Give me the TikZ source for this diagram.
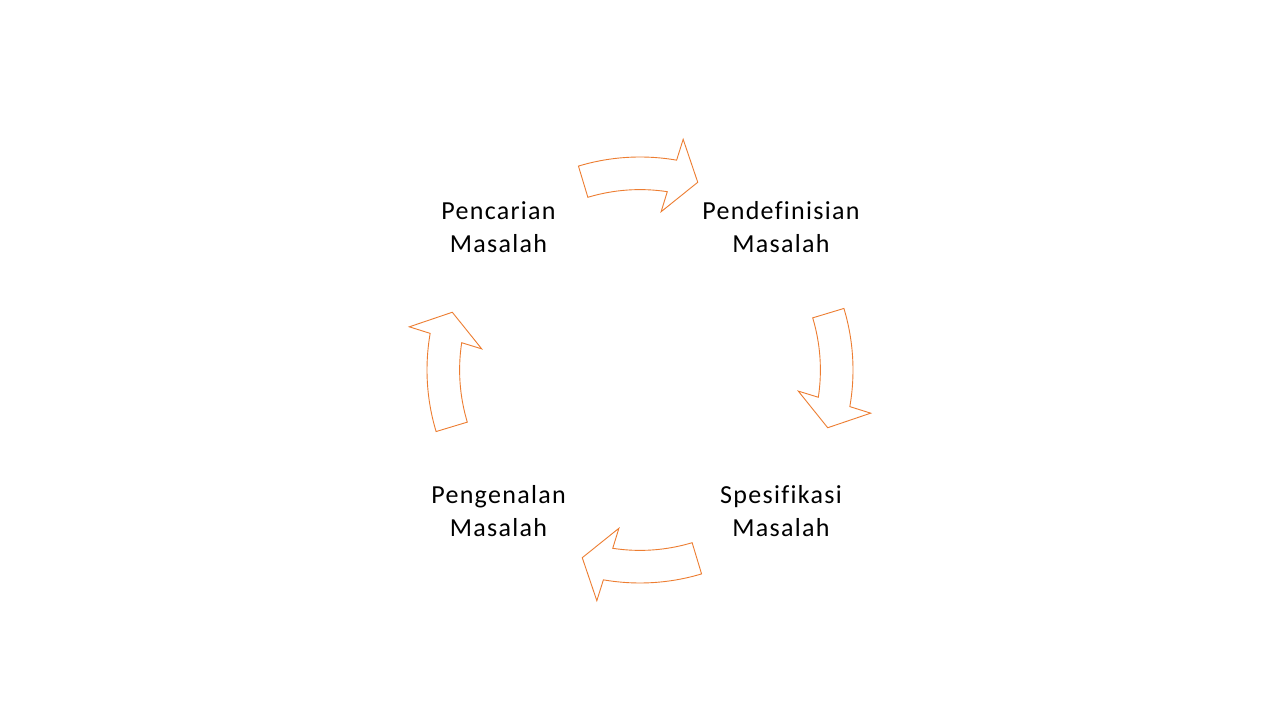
\documentclass[tikz,border=0pt]{standalone}
\usepackage{fontspec}
\setmainfont{Carlito}[LetterSpace=5,Ligatures=CommonOff]
\definecolor{arrorange}{HTML}{ED7D31}
\begin{document}
\begin{tikzpicture}[x=1pt,y=1pt,
  arrowline/.style={draw=arrorange,line width=0.9pt,line join=miter,fill=white},
  lbl/.style={align=center,inner sep=0pt,font=\fontsize{26}{33}\selectfont,anchor=base},
  cyc/.pic={
    \path[arrowline] (106.8:213) arc[start angle=106.8,end angle=80.1,radius=213]
      -- (79.4:234.7) -- (72.9:196.4) -- (82.4:159.7) -- (81.3:180.4)
      arc[start angle=81.3,end angle=106.8,radius=180.4] -- cycle;
  }]
\useasboundingbox (0,0) rectangle (1280,720);
\fill[white] (0,0) rectangle (1280,720);
\coordinate (c) at (640,350);
\pic at (c) {cyc};
\pic[rotate=-90] at (c) {cyc};
\pic[rotate=180] at (c) {cyc};
\pic[rotate=90] at (c) {cyc};
\node[lbl] (p1) at (498.5,467.5) {Pencarian\\Masalah};
\node[lbl] (p2) at (781,467.5) {Pendefinisian\\Masalah};
\node[lbl] (p3) at (781,183.5) {Spesifikasi\\Masalah};
\node[lbl] (p4) at (498.5,183.5) {Pengenalan\\Masalah};
\end{tikzpicture}
\end{document}
